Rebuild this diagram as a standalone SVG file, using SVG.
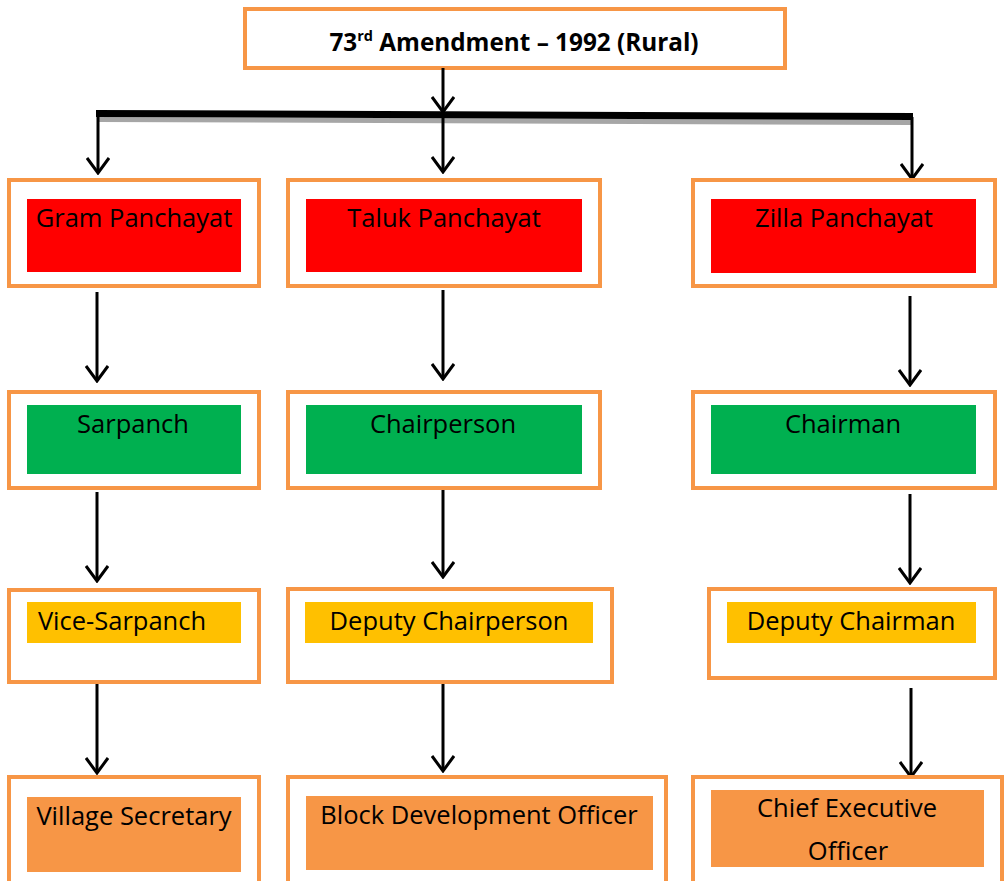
<svg xmlns="http://www.w3.org/2000/svg" width="1006" height="881" viewBox="0 0 1006 881">
<style>
.outer{fill:#fff;stroke:#F79646;stroke-width:4}
.red{fill:#FF0000}
.green{fill:#00B050}
.yellow{fill:#FFC000}
.orange{fill:#F79646}
.t{font-family:"Open Sans","Noto Sans",sans-serif;font-size:25.5px;fill:#000;text-anchor:middle}
.title{font-family:"Open Sans","Noto Sans",sans-serif;font-size:24.3px;font-weight:bold;fill:#000;text-anchor:middle}
.c{stroke:#000;stroke-width:3;fill:none}
</style>
<defs>
<marker id="arr" viewBox="0 0 20 24" refX="18" refY="12" markerWidth="20" markerHeight="24" markerUnits="userSpaceOnUse" orient="auto">
<path d="M3,1 L18,12 L3,23" fill="none" stroke="#000" stroke-width="3"/>
</marker>
</defs>
<rect width="1006" height="881" fill="#fff"/>

<g id="title">
<rect class="outer" x="245" y="9" width="540" height="59"/>
<text class="title" x="514" y="51">73<tspan font-size="14.5" dy="-10">rd</tspan><tspan dy="10"> Amendment – 1992 (Rural)</tspan></text>
</g>

<g id="connectors">
<polygon points="98,117 912,120 912,125 98,122" fill="#A6A6A6"/>
<polygon points="96,110 913,113 913,120 96,117" fill="#000"/>
<line class="c" x1="443" y1="68" x2="443" y2="112" marker-end="url(#arr)"/>
<line class="c" x1="443" y1="118" x2="443" y2="172" marker-end="url(#arr)"/>
<line class="c" x1="98" y1="114" x2="98" y2="173" marker-end="url(#arr)"/>
<line class="c" x1="912" y1="117" x2="912" y2="179" marker-end="url(#arr)"/>
<line class="c" x1="97" y1="292" x2="97" y2="381" marker-end="url(#arr)"/>
<line class="c" x1="443" y1="290" x2="443" y2="379" marker-end="url(#arr)"/>
<line class="c" x1="910" y1="296" x2="910" y2="385" marker-end="url(#arr)"/>
<line class="c" x1="97" y1="492" x2="97" y2="581" marker-end="url(#arr)"/>
<line class="c" x1="443" y1="487" x2="443" y2="577" marker-end="url(#arr)"/>
<line class="c" x1="910" y1="494" x2="910" y2="583" marker-end="url(#arr)"/>
<line class="c" x1="97" y1="684" x2="97" y2="773" marker-end="url(#arr)"/>
<line class="c" x1="443" y1="684" x2="443" y2="771" marker-end="url(#arr)"/>
<line class="c" x1="911" y1="688" x2="911" y2="777" marker-end="url(#arr)"/>
</g>

<g id="gram-panchayat">
<rect class="outer" x="9" y="180" width="250" height="106"/>
<rect class="red" x="27" y="199" width="214" height="73"/>
<text class="t" x="134" y="227">Gram Panchayat</text>
</g>
<g id="taluk-panchayat">
<rect class="outer" x="288" y="180" width="312" height="106"/>
<rect class="red" x="306" y="199" width="276" height="73"/>
<text class="t" x="444" y="227">Taluk Panchayat</text>
</g>
<g id="zilla-panchayat">
<rect class="outer" x="693" y="180" width="302" height="106"/>
<rect class="red" x="711" y="199" width="265" height="74"/>
<text class="t" x="844" y="227">Zilla Panchayat</text>
</g>

<g id="sarpanch">
<rect class="outer" x="9" y="392" width="250" height="96"/>
<rect class="green" x="27" y="405" width="214" height="69"/>
<text class="t" x="133" y="433">Sarpanch</text>
</g>
<g id="chairperson">
<rect class="outer" x="288" y="392" width="312" height="96"/>
<rect class="green" x="306" y="405" width="276" height="69"/>
<text class="t" x="443" y="433">Chairperson</text>
</g>
<g id="chairman">
<rect class="outer" x="693" y="392" width="302" height="96"/>
<rect class="green" x="711" y="405" width="265" height="69"/>
<text class="t" x="843" y="433">Chairman</text>
</g>

<g id="vice-sarpanch">
<rect class="outer" x="9" y="590" width="250" height="92"/>
<rect class="yellow" x="27" y="602" width="214" height="41"/>
<text class="t" x="122" y="630">Vice-Sarpanch</text>
</g>
<g id="deputy-chairperson">
<rect class="outer" x="288" y="589" width="324" height="93"/>
<rect class="yellow" x="305" y="602" width="288" height="41"/>
<text class="t" x="449" y="630">Deputy Chairperson</text>
</g>
<g id="deputy-chairman">
<rect class="outer" x="709" y="589" width="286" height="89"/>
<rect class="yellow" x="727" y="602" width="249" height="41"/>
<text class="t" x="851" y="630">Deputy Chairman</text>
</g>

<g id="village-secretary">
<rect class="outer" x="9" y="777" width="250" height="110"/>
<rect class="orange" x="27" y="797" width="214" height="75"/>
<text class="t" x="134" y="825">Village Secretary</text>
</g>
<g id="block-development-officer">
<rect class="outer" x="288" y="777" width="378" height="110"/>
<rect class="orange" x="306" y="796" width="347" height="74"/>
<text class="t" x="479" y="824">Block Development Officer</text>
</g>
<g id="chief-executive-officer">
<rect class="outer" x="693" y="777" width="309" height="110"/>
<rect class="orange" x="711" y="790" width="273" height="77"/>
<text class="t" x="847" y="817">Chief Executive</text>
<text class="t" x="848" y="860">Officer</text>
</g>
</svg>
